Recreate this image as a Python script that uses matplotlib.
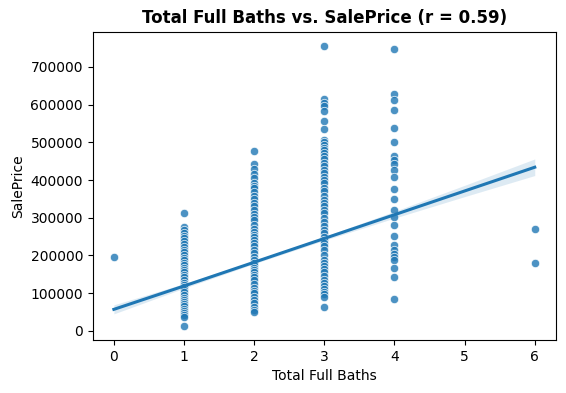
import numpy as np
import pandas as pd
import matplotlib
matplotlib.use("Agg")
import matplotlib.pyplot as plt
import seaborn as sns

# Sale prices, one list per "total full baths" value
baths_0 = [195000]
baths_1 = [312000, 275000, 268000, 260000, 252000, 245000, 238000, 230000, 222000,
           215000, 208000, 201000, 194000, 188000, 181000, 175000, 168000, 162000,
           155000, 149000, 142000, 135000, 128000, 122000, 115000, 109000, 102000,
           95000, 88000, 82000, 76000, 71000, 65000, 59000, 53000, 47000, 41000,
           36000, 13000]
baths_2 = [477000, 442000, 430000, 416000, 405000, 393000, 385000, 378000, 368000,
           359000, 350000, 340000, 330000, 321000, 310000, 302000, 293000, 282000,
           270000, 262000, 255000, 248000, 241000, 232000, 224000, 215000, 206000,
           197000, 188000, 181000, 175000, 168000, 162000, 155000, 149000, 142000,
           135000, 124000, 113000, 106000, 100000, 91000, 82000, 73000, 64000,
           56000, 49000]
baths_3 = [756000, 615000, 605000, 597000, 584000, 557000, 536000, 507000, 500000,
           493000, 486000, 480000, 472000, 464000, 455000, 445000, 436000, 427000,
           418000, 409000, 400000, 392000, 380000, 370000, 358000, 347000, 338000,
           330000, 321000, 312000, 300000, 290000, 279000, 268000, 259000, 250000,
           241000, 233000, 224000, 215000, 202000, 188000, 180000, 171000, 163000,
           155000, 145000, 135000, 126000, 118000, 111000, 104000, 97000, 91000,
           64000]
baths_4 = [747000, 628000, 613000, 586000, 538000, 500000, 464000, 454000, 442000,
           427000, 409000, 376000, 349000, 321000, 303000, 281000, 252000, 228000,
           215000, 205000, 197000, 188000, 166000, 144000, 85000]
baths_6 = [270000, 180000]

# fitted line and its confidence band as seen on the chart
fit_x = [0, 1, 2, 3, 4, 5, 6]
fit_y = [57000, 119000, 182000, 245000, 308000, 371000, 434000]
ci_half = [12000, 6000, 4000, 5000, 9000, 15000, 22000]

r_value = 0.59

groups = {0: baths_0, 1: baths_1, 2: baths_2, 3: baths_3, 4: baths_4, 6: baths_6}
df = pd.DataFrame(
    [(k, v) for k, vals in groups.items() for v in vals],
    columns=["TotalFullBaths", "SalePrice"],
)

fig, ax = plt.subplots(figsize=(5.66, 3.93), dpi=100)
fig.subplots_adjust(left=0.164, right=0.982, top=0.919, bottom=0.135)

sns.scatterplot(data=df, x="TotalFullBaths", y="SalePrice", alpha=0.8,
                color="#1f77b4", edgecolor="white", linewidth=0.6, s=36, ax=ax)

fx = np.array(fit_x)
fy = np.array(fit_y)
ch = np.array(ci_half)
ax.fill_between(fx, fy - ch, fy + ch, color="#1f77b4", alpha=0.15, linewidth=0)
ax.plot(fx, fy, color="#1f77b4", linewidth=2.2)

ax.set_title(f"Total Full Baths vs. SalePrice (r = {r_value:.2f})", fontweight="bold")
ax.set_xlabel("Total Full Baths")
ax.set_ylabel("SalePrice")
ax.set_xticks([0, 1, 2, 3, 4, 5, 6])

fig.savefig("out.png", dpi=100)
